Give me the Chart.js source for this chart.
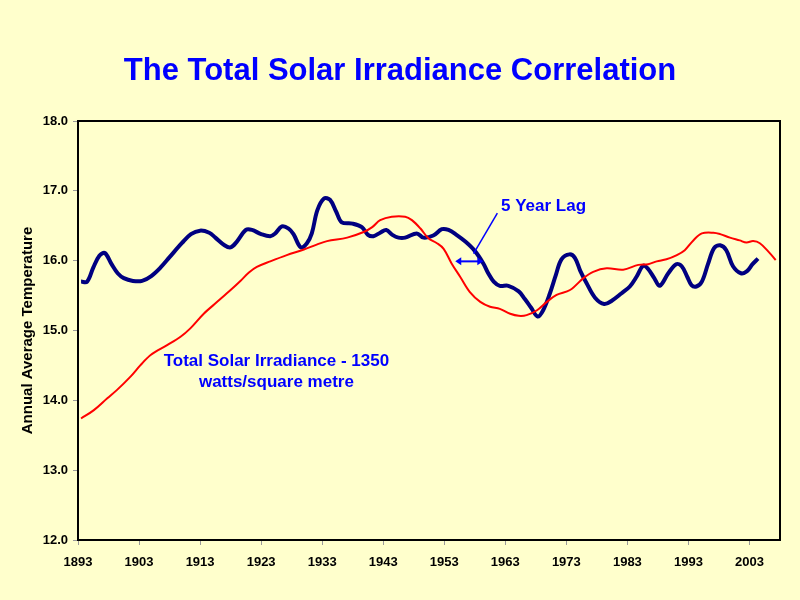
<!DOCTYPE html>
<html>
<head>
<meta charset="utf-8">
<script src="https://cdn.jsdelivr.net/npm/chart.js@4"></script>
<style>
  html, body { margin: 0; padding: 0; background: #FFFFCC; }
  #wrap { width: 800px; height: 600px; position: relative; }
</style>
</head>
<body>
<div id="wrap"><canvas id="c" width="800" height="600"></canvas></div>
<script>
// ---- Data ----
const chartTitle = "The Total Solar Irradiance Correlation";
const yAxisTitle = "Annual Average Temperature";
const xTickYears = [1893, 1903, 1913, 1923, 1933, 1943, 1953, 1963, 1973, 1983, 1993, 2003];
const yTickValues = [12, 13, 14, 15, 16, 17, 18];

// Annual average temperature (dark blue)
const tempYears = [1893.5,1894.5,1895.5,1896.5,1897.4,1898.5,1899.5,1900.5,1902,1903.5,1905,1906.5,1908,1910,1911.5,1913,1914.5,1915.5,1917,1918,1919,1920.5,1921.5,1923,1924.5,1925.3,1926.4,1927.5,1928.3,1929.5,1930.5,1931.3,1932.2,1933.3,1934.3,1935.3,1936.2,1938,1939.5,1940.5,1941.4,1942.5,1943.5,1944.5,1945.5,1946.6,1948.5,1949.6,1951.2,1952.6,1953.7,1955,1956.5,1958,1959.4,1960.2,1961.1,1962.1,1963.5,1965.2,1966.2,1967.2,1968.3,1969.2,1970.3,1971.3,1972.2,1973.5,1974.4,1975.3,1976.3,1977.7,1979.2,1980.5,1982,1983.4,1984.5,1985.6,1986.4,1987.4,1988.3,1989.7,1991,1991.9,1992.8,1993.5,1994.3,1995.2,1996.2,1997.2,1998.2,1999.2,2000.3,2001.6,2002.6,2003.5,2004.4];
const tempValues = [15.70,15.70,15.90,16.07,16.11,15.95,15.82,15.75,15.71,15.71,15.78,15.90,16.05,16.25,16.38,16.43,16.40,16.33,16.22,16.19,16.27,16.44,16.44,16.38,16.35,16.39,16.49,16.46,16.38,16.19,16.25,16.39,16.72,16.89,16.87,16.70,16.55,16.53,16.48,16.37,16.35,16.40,16.44,16.37,16.33,16.33,16.39,16.33,16.36,16.45,16.44,16.37,16.27,16.14,15.96,15.82,15.70,15.64,15.64,15.56,15.45,15.33,15.20,15.29,15.53,15.80,16.02,16.09,16.04,15.85,15.68,15.47,15.38,15.43,15.53,15.63,15.77,15.93,15.88,15.75,15.64,15.82,15.95,15.92,15.77,15.65,15.63,15.70,15.95,16.18,16.22,16.15,15.92,15.82,15.85,15.95,16.03];

// Total solar irradiance (red), plotted on the same scale
const tsiYears = [1893.5,1895.6,1897.8,1899.4,1901.6,1903.2,1904.9,1907.6,1909.8,1911.4,1913.6,1915.8,1918,1919.6,1921,1922.3,1924.5,1927.2,1930,1932.1,1933.8,1937.1,1939.8,1941.2,1942.5,1944.4,1946.6,1947.7,1949.1,1950.4,1951.8,1952.9,1954.2,1955.6,1957.2,1958.9,1960.5,1962.1,1963.8,1965.2,1966.5,1968.2,1969.8,1971.4,1973.6,1975.8,1977.4,1979.6,1982.3,1984.8,1986.4,1987.8,1989.4,1991.1,1992.4,1993.8,1995.2,1997.1,1998.2,1999.8,2001.4,2002.5,2003.6,2004.7,2006.1,2007.3];
const tsiValues = [13.74,13.86,14.03,14.15,14.34,14.50,14.65,14.79,14.91,15.03,15.24,15.41,15.58,15.71,15.83,15.91,15.99,16.08,16.16,16.23,16.28,16.33,16.41,16.48,16.58,16.63,16.63,16.58,16.46,16.32,16.25,16.17,15.96,15.77,15.55,15.41,15.34,15.31,15.24,15.21,15.22,15.29,15.41,15.51,15.58,15.75,15.84,15.89,15.87,15.94,15.95,15.99,16.02,16.08,16.15,16.29,16.39,16.40,16.38,16.33,16.29,16.26,16.28,16.25,16.13,16.01];

// Annotation texts (anchored in data units)
const tsiLabelLines = ["Total Solar Irradiance - 1350", "watts/square metre"];
const lagLabel = "5 Year Lag";

// ---- Chart ----
const FONT = "'Liberation Sans', Arial, sans-serif";
const BLUE_TEXT = "#0000FF";

const toPoints = (xs, ys) => xs.map((x, i) => ({ x: x, y: ys[i] }));

const decorPlugin = {
  id: 'decor',
  beforeDraw(chart) {
    const ctx = chart.ctx;
    ctx.save();
    ctx.fillStyle = '#FFFFCC';
    ctx.fillRect(0, 0, chart.width, chart.height);
    ctx.restore();
  },
  afterDraw(chart) {
    const ctx = chart.ctx;
    const a = chart.chartArea;
    const xs = chart.scales.x, ys = chart.scales.y;
    ctx.save();
    // plot frame
    ctx.strokeStyle = '#000';
    ctx.lineWidth = 2;
    ctx.strokeRect(a.left, a.top, a.right - a.left, a.bottom - a.top);

    // title
    ctx.fillStyle = BLUE_TEXT;
    ctx.font = "bold 31px " + FONT;
    ctx.textAlign = 'center';
    ctx.textBaseline = 'alphabetic';
    ctx.fillText(chartTitle, 400, 80);

    // y-axis title
    ctx.save();
    ctx.fillStyle = '#000';
    ctx.font = "bold 15px " + FONT;
    ctx.translate(28, (a.top + a.bottom) / 2);
    ctx.rotate(-Math.PI / 2);
    ctx.textAlign = 'center';
    ctx.textBaseline = 'middle';
    ctx.fillText(yAxisTitle, 0, 0);
    ctx.restore();

    // TSI label
    ctx.fillStyle = BLUE_TEXT;
    ctx.font = "bold 17px " + FONT;
    ctx.textAlign = 'center';
    const cx = xs.getPixelForValue(1925.5);
    ctx.fillText(tsiLabelLines[0], cx, ys.getPixelForValue(14.49));
    ctx.fillText(tsiLabelLines[1], cx, ys.getPixelForValue(14.19));

    // 5 year lag label
    ctx.textAlign = 'left';
    ctx.fillText(lagLabel, xs.getPixelForValue(1962.3), ys.getPixelForValue(16.71));

    // pointer line
    ctx.strokeStyle = BLUE_TEXT;
    ctx.lineWidth = 1.5;
    ctx.beginPath();
    ctx.moveTo(xs.getPixelForValue(1961.7), ys.getPixelForValue(16.68));
    ctx.lineTo(xs.getPixelForValue(1957.8), ys.getPixelForValue(16.10));
    ctx.stroke();

    // double-headed arrow
    const ax1 = xs.getPixelForValue(1954.8), ax2 = xs.getPixelForValue(1959.4);
    const ay = ys.getPixelForValue(15.99);
    ctx.lineWidth = 2;
    ctx.beginPath();
    ctx.moveTo(ax1 + 4, ay);
    ctx.lineTo(ax2 - 4, ay);
    ctx.stroke();
    ctx.fillStyle = BLUE_TEXT;
    ctx.beginPath();
    ctx.moveTo(ax1, ay); ctx.lineTo(ax1 + 6, ay - 4); ctx.lineTo(ax1 + 6, ay + 4); ctx.closePath();
    ctx.fill();
    ctx.beginPath();
    ctx.moveTo(ax2, ay); ctx.lineTo(ax2 - 6, ay - 4); ctx.lineTo(ax2 - 6, ay + 4); ctx.closePath();
    ctx.fill();
    ctx.restore();
  }
};

new Chart(document.getElementById('c'), {
  type: 'line',
  data: {
    datasets: [
      {
        label: 'Total Solar Irradiance',
        data: toPoints(tsiYears, tsiValues),
        borderColor: '#FF0000',
        borderWidth: 2,
        pointRadius: 0,
        tension: 0.35,
        fill: false,
        order: 0
      },
      {
        label: 'Annual Average Temperature',
        data: toPoints(tempYears, tempValues),
        borderColor: '#000080',
        borderWidth: 4,
        pointRadius: 0,
        tension: 0.35,
        fill: false,
        order: 1
      }
    ]
  },
  options: {
    responsive: false,
    animation: false,
    devicePixelRatio: 1,
    layout: { padding: { left: 0, top: 121, right: 20, bottom: 0 } },
    plugins: {
      legend: { display: false },
      tooltip: { enabled: false },
      title: { display: false }
    },
    scales: {
      x: {
        type: 'linear',
        min: 1893,
        max: 2008,
        afterBuildTicks: (s) => { s.ticks = xTickYears.map(v => ({ value: v })); },
        afterFit: (s) => { s.height = 60; },
        ticks: {
          autoSkip: false,
          maxRotation: 0,
          padding: 10,
          color: '#000',
          font: { family: FONT, size: 13, weight: 'bold' },
          callback: (v) => String(v)
        },
        grid: { drawOnChartArea: false, drawTicks: true, tickLength: 5, color: '#999' },
        border: { display: true, color: '#000', width: 2 }
      },
      y: {
        min: 12,
        max: 18,
        afterBuildTicks: (s) => { s.ticks = yTickValues.map(v => ({ value: v })); },
        afterFit: (s) => { s.width = 78; },
        ticks: {
          padding: 5,
          color: '#000',
          font: { family: FONT, size: 13, weight: 'bold' },
          callback: (v) => Number(v).toFixed(1)
        },
        grid: { drawOnChartArea: false, drawTicks: true, tickLength: 5, color: '#999' },
        border: { display: true, color: '#000', width: 2 }
      }
    }
  },
  plugins: [decorPlugin]
});
</script>
</body>
</html>
